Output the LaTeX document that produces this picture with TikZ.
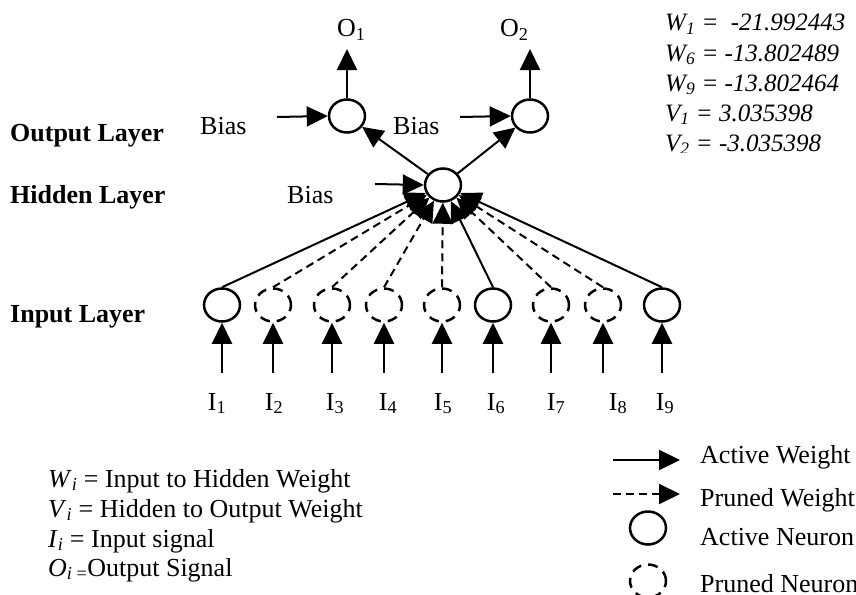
\documentclass[tikz,border=0pt]{standalone}
\usepackage{fontspec}
\setmainfont{Liberation Serif}
\usetikzlibrary{arrows.meta,shapes.geometric}

\newcommand{\isub}[2]{\textit{#1}\textsubscript{\textit{#2}}}

\begin{document}
\begin{tikzpicture}[x=1pt,y=-1pt,
		font=\fontsize{26}{30}\selectfont,
		act/.style={ellipse,draw,line width=2.5pt,minimum width=36pt,minimum height=33pt,inner sep=0pt},
		prn/.style={act,dash pattern=on 10pt off 7pt},
		wt/.style={line width=2pt,-{Triangle[length=21pt,width=20pt]}},
		pwt/.style={wt,dash pattern=on 8pt off 5pt},
		lbl/.style={anchor=base west,inner sep=0pt},
		clbl/.style={anchor=base,inner sep=0pt}]
		\useasboundingbox (0,0) rectangle (856,594);
		\clip (0,0) rectangle (856,594);
		
		% layer names
		\node[lbl,font=\fontsize{26}{30}\selectfont\bfseries] (lout) at (10,141) {Output Layer};
		\node[lbl,font=\fontsize{26}{30}\selectfont\bfseries] (lhid) at (10,203) {Hidden Layer};
		\node[lbl,font=\fontsize{26}{30}\selectfont\bfseries] (linp) at (10,322) {Input Layer};
		
		% neurons
		\node[act] (out1) at (347,116) {};
		\node[act] (out2) at (530,116) {};
		\node[act] (hid) at (443,185) {};
		
		\node[act] (in1) at (222,305) {};
		\node[prn] (in2) at (273,305) {};
		\node[prn] (in3) at (332,305) {};
		\node[prn] (in4) at (384,305) {};
		\node[prn] (in5) at (442,305) {};
		\node[act] (in6) at (493,305) {};
		\node[prn] (in7) at (551,305) {};
		\node[prn] (in8) at (603,305) {};
		\node[act] (in9) at (662,305) {};
		
		% outputs
		\coordinate (o1) at (347,49);
		\coordinate (o2) at (530,49);
		\draw[wt] (out1.north) -- (o1);
		\draw[wt] (out2.north) -- (o2);
		\node[lbl] (to1) at (337,37) {O\textsubscript{1}};
		\node[lbl] (to2) at (500,37) {O\textsubscript{2}};
		
		% bias
		\node[lbl] (bias1) at (200,134) {Bias};
		\node[lbl] (bias2) at (393,134) {Bias};
		\node[lbl] (bias3) at (287,203) {Bias};
		\coordinate (b1) at (277,117);
		\coordinate (b2) at (460,117);
		\coordinate (b3) at (375,184);
		\draw[wt] (b1) -- (out1.west);
		\draw[wt] (b2) -- (out2.west);
		\draw[wt] (b3) -- (hid.west);
		
		% hidden to output
		\draw[wt] (hid) -- (out1);
		\draw[wt] (hid) -- (out2);
		
		% input to hidden
		\draw[wt] (in1.north) -- (hid);
		\draw[pwt] (in2.north) -- (hid);
		\draw[pwt] (in3.north) -- (hid);
		\draw[pwt] (in4.north) -- (hid);
		\draw[pwt] (in5.north) -- (hid);
		\draw[wt] (in6.north) -- (hid);
		\draw[pwt] (in7.north) -- (hid);
		\draw[pwt] (in8.north) -- (hid);
		\draw[wt] (in9.north) -- (hid);
		
		% input signals
		\coordinate (s1) at (222,373);
		\coordinate (s2) at (273,373);
		\coordinate (s3) at (332,373);
		\coordinate (s4) at (384,373);
		\coordinate (s5) at (442,373);
		\coordinate (s6) at (493,373);
		\coordinate (s7) at (551,373);
		\coordinate (s8) at (603,373);
		\coordinate (s9) at (662,373);
		\draw[wt] (s1) -- (in1.south);
		\draw[wt] (s2) -- (in2.south);
		\draw[wt] (s3) -- (in3.south);
		\draw[wt] (s4) -- (in4.south);
		\draw[wt] (s5) -- (in5.south);
		\draw[wt] (s6) -- (in6.south);
		\draw[wt] (s7) -- (in7.south);
		\draw[wt] (s8) -- (in8.south);
		\draw[wt] (s9) -- (in9.south);
		\node[clbl] (i1) at (217,410) {I\textsubscript{1}};
		\node[clbl] (i2) at (274,410) {I\textsubscript{2}};
		\node[clbl] (i3) at (335,410) {I\textsubscript{3}};
		\node[clbl] (i4) at (388,410) {I\textsubscript{4}};
		\node[clbl] (i5) at (443,410) {I\textsubscript{5}};
		\node[clbl] (i6) at (496,410) {I\textsubscript{6}};
		\node[clbl] (i7) at (556,410) {I\textsubscript{7}};
		\node[clbl] (i8) at (618,410) {I\textsubscript{8}};
		\node[clbl] (i9) at (665,410) {I\textsubscript{9}};
		
		% weight values
		\begin{scope}
			\clip (640,0) rectangle (856,152);
			\node[lbl,font=\fontsize{25}{30}\selectfont\itshape] (w1) at (665,31) {W\textsubscript{1} =~ -21.992443};
			\node[lbl,font=\fontsize{25}{30}\selectfont\itshape] (w6) at (665,61) {W\textsubscript{6} = -13.802489};
			\node[lbl,font=\fontsize{25}{30}\selectfont\itshape] (w9) at (665,91) {W\textsubscript{9} = -13.802464};
			\node[lbl,font=\fontsize{25}{30}\selectfont\itshape] (v1) at (665,121) {V\textsubscript{1} = 3.035398};
			\node[lbl,font=\fontsize{25}{30}\selectfont\itshape] (v2) at (665,151) {V\textsubscript{2} = -3.035398};
		\end{scope}
		
		% notation
		\node[lbl] (nw) at (48,487) {\isub{W}{i} = Input to Hidden Weight};
		\node[lbl] (nv) at (48,517) {\isub{V}{i} = Hidden to Output Weight};
		\node[lbl] (ni) at (48,547) {\isub{I}{i} = Input signal};
		\node[lbl] (no) at (48,576) {\textit{O}\textsubscript{\textit{i} =}Output Signal};
		
		% legend
		\coordinate (la1) at (613,460);
		\coordinate (la2) at (680,460);
		\coordinate (lp1) at (613,494);
		\coordinate (lp2) at (680,494);
		\draw[wt] (la1) -- (la2);
		\draw[pwt] (lp1) -- (lp2);
		\node[act] (lan) at (648,528) {};
		\node[prn] (lpn) at (648,581) {};
		\node[lbl] (taw) at (700,463) {Active Weight};
		\node[lbl] (tpw) at (700,506) {Pruned Weight};
		\node[lbl] (tan) at (700,545) {Active Neuron};
		\node[lbl] (tpn) at (700,592) {Pruned Neuron};
\end{tikzpicture}
\end{document}
